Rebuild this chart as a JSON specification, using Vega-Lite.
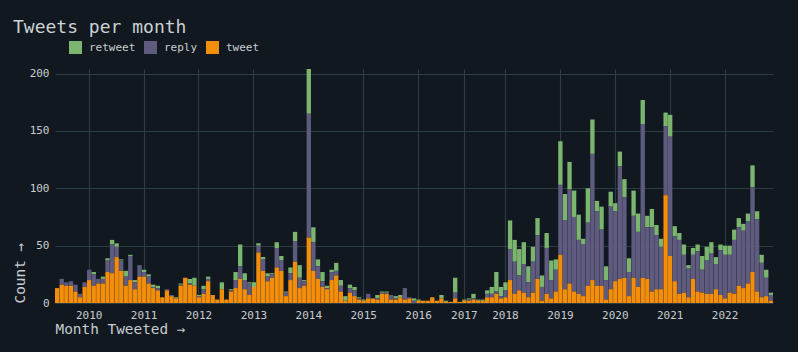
{
  "$schema": "https://vega.github.io/schema/vega-lite/v6.json",
  "width": 718,
  "height": 234,
  "autosize": {"type": "none"},
  "padding": {"left": 55, "top": 69, "right": 25, "bottom": 49},
  "background": "#11181f",
  "title": {"text": "Tweets per month", "anchor": "start", "frame": "group", "font": "DejaVu Sans Mono", "fontSize": 18, "fontWeight": "normal", "color": "#cdd1d4", "dx": -42, "offset": -10, "baseline": "alphabetic"},
  "data": {"values": [
    {"m":"2009-06","tweet":13,"reply":0,"retweet":0},
    {"m":"2009-07","tweet":16,"reply":5,"retweet":0},
    {"m":"2009-08","tweet":15,"reply":3,"retweet":0},
    {"m":"2009-09","tweet":15,"reply":4,"retweet":0},
    {"m":"2009-10","tweet":10,"reply":6,"retweet":0},
    {"m":"2009-11","tweet":5,"reply":3,"retweet":0},
    {"m":"2009-12","tweet":14,"reply":4,"retweet":0},
    {"m":"2010-01","tweet":20,"reply":9,"retweet":0},
    {"m":"2010-02","tweet":15,"reply":10,"retweet":2},
    {"m":"2010-03","tweet":17,"reply":4,"retweet":0},
    {"m":"2010-04","tweet":17,"reply":4,"retweet":2},
    {"m":"2010-05","tweet":27,"reply":10,"retweet":2},
    {"m":"2010-06","tweet":26,"reply":25,"retweet":4},
    {"m":"2010-07","tweet":40,"reply":9,"retweet":3},
    {"m":"2010-08","tweet":28,"reply":9,"retweet":1},
    {"m":"2010-09","tweet":15,"reply":8,"retweet":5},
    {"m":"2010-10","tweet":20,"reply":21,"retweet":1},
    {"m":"2010-11","tweet":12,"reply":6,"retweet":2},
    {"m":"2010-12","tweet":23,"reply":10,"retweet":0},
    {"m":"2011-01","tweet":23,"reply":4,"retweet":2},
    {"m":"2011-02","tweet":17,"reply":6,"retweet":2},
    {"m":"2011-03","tweet":13,"reply":1,"retweet":2},
    {"m":"2011-04","tweet":11,"reply":2,"retweet":2},
    {"m":"2011-05","tweet":5,"reply":0,"retweet":0},
    {"m":"2011-06","tweet":11,"reply":1,"retweet":0},
    {"m":"2011-07","tweet":6,"reply":1,"retweet":0},
    {"m":"2011-08","tweet":4,"reply":0,"retweet":1},
    {"m":"2011-09","tweet":15,"reply":1,"retweet":1},
    {"m":"2011-10","tweet":22,"reply":0,"retweet":0},
    {"m":"2011-11","tweet":16,"reply":1,"retweet":4},
    {"m":"2011-12","tweet":15,"reply":0,"retweet":7},
    {"m":"2012-01","tweet":5,"reply":1,"retweet":1},
    {"m":"2012-02","tweet":8,"reply":4,"retweet":3},
    {"m":"2012-03","tweet":19,"reply":2,"retweet":2},
    {"m":"2012-04","tweet":7,"reply":0,"retweet":0},
    {"m":"2012-05","tweet":3,"reply":0,"retweet":0},
    {"m":"2012-06","tweet":12,"reply":0,"retweet":6},
    {"m":"2012-07","tweet":3,"reply":0,"retweet":0},
    {"m":"2012-08","tweet":10,"reply":1,"retweet":1},
    {"m":"2012-09","tweet":13,"reply":7,"retweet":7},
    {"m":"2012-10","tweet":21,"reply":11,"retweet":19},
    {"m":"2012-11","tweet":12,"reply":8,"retweet":6},
    {"m":"2012-12","tweet":7,"reply":10,"retweet":1},
    {"m":"2013-01","tweet":14,"reply":0,"retweet":4},
    {"m":"2013-02","tweet":44,"reply":6,"retweet":2},
    {"m":"2013-03","tweet":28,"reply":10,"retweet":2},
    {"m":"2013-04","tweet":19,"reply":4,"retweet":3},
    {"m":"2013-05","tweet":22,"reply":3,"retweet":1},
    {"m":"2013-06","tweet":31,"reply":17,"retweet":5},
    {"m":"2013-07","tweet":28,"reply":9,"retweet":4},
    {"m":"2013-08","tweet":6,"reply":3,"retweet":1},
    {"m":"2013-09","tweet":20,"reply":6,"retweet":5},
    {"m":"2013-10","tweet":36,"reply":18,"retweet":8},
    {"m":"2013-11","tweet":13,"reply":9,"retweet":11},
    {"m":"2013-12","tweet":15,"reply":4,"retweet":1},
    {"m":"2014-01","tweet":57,"reply":108,"retweet":39},
    {"m":"2014-02","tweet":28,"reply":25,"retweet":13},
    {"m":"2014-03","tweet":21,"reply":11,"retweet":6},
    {"m":"2014-04","tweet":14,"reply":5,"retweet":8},
    {"m":"2014-05","tweet":12,"reply":1,"retweet":2},
    {"m":"2014-06","tweet":20,"reply":7,"retweet":2},
    {"m":"2014-07","tweet":24,"reply":4,"retweet":7},
    {"m":"2014-08","tweet":10,"reply":5,"retweet":5},
    {"m":"2014-09","tweet":2,"reply":0,"retweet":4},
    {"m":"2014-10","tweet":9,"reply":4,"retweet":3},
    {"m":"2014-11","tweet":6,"reply":5,"retweet":3},
    {"m":"2014-12","tweet":3,"reply":1,"retweet":1},
    {"m":"2015-01","tweet":2,"reply":0,"retweet":1},
    {"m":"2015-02","tweet":4,"reply":4,"retweet":0},
    {"m":"2015-03","tweet":4,"reply":0,"retweet":0},
    {"m":"2015-04","tweet":3,"reply":1,"retweet":3},
    {"m":"2015-05","tweet":8,"reply":1,"retweet":1},
    {"m":"2015-06","tweet":8,"reply":1,"retweet":1},
    {"m":"2015-07","tweet":3,"reply":4,"retweet":0},
    {"m":"2015-08","tweet":3,"reply":1,"retweet":2},
    {"m":"2015-09","tweet":5,"reply":0,"retweet":2},
    {"m":"2015-10","tweet":3,"reply":10,"retweet":0},
    {"m":"2015-11","tweet":4,"reply":1,"retweet":0},
    {"m":"2015-12","tweet":0,"reply":2,"retweet":2},
    {"m":"2016-01","tweet":2,"reply":0,"retweet":1},
    {"m":"2016-02","tweet":2,"reply":0,"retweet":0},
    {"m":"2016-03","tweet":2,"reply":0,"retweet":0},
    {"m":"2016-04","tweet":5,"reply":0,"retweet":0},
    {"m":"2016-05","tweet":2,"reply":0,"retweet":0},
    {"m":"2016-06","tweet":4,"reply":0,"retweet":3},
    {"m":"2016-08","tweet":1,"reply":0,"retweet":1},
    {"m":"2016-09","tweet":1,"reply":0,"retweet":0},
    {"m":"2016-10","tweet":4,"reply":5,"retweet":13},
    {"m":"2016-12","tweet":1,"reply":0,"retweet":0},
    {"m":"2017-01","tweet":2,"reply":0,"retweet":1},
    {"m":"2017-02","tweet":2,"reply":1,"retweet":1},
    {"m":"2017-04","tweet":3,"reply":1,"retweet":4},
    {"m":"2017-06","tweet":2,"reply":0,"retweet":1},
    {"m":"2017-07","tweet":2,"reply":0,"retweet":1},
    {"m":"2017-09","tweet":5,"reply":3,"retweet":3},
    {"m":"2017-10","tweet":5,"reply":3,"retweet":6},
    {"m":"2017-11","tweet":8,"reply":2,"retweet":17},
    {"m":"2017-12","tweet":4,"reply":2,"retweet":8},
    {"m":"2018-01","tweet":5,"reply":6,"retweet":7},
    {"m":"2018-02","tweet":20,"reply":27,"retweet":25},
    {"m":"2018-03","tweet":8,"reply":28,"retweet":19},
    {"m":"2018-04","tweet":11,"reply":13,"retweet":23},
    {"m":"2018-05","tweet":9,"reply":25,"retweet":19},
    {"m":"2018-06","tweet":5,"reply":13,"retweet":14},
    {"m":"2018-07","tweet":9,"reply":27,"retweet":13},
    {"m":"2018-08","tweet":21,"reply":38,"retweet":15},
    {"m":"2018-09","tweet":2,"reply":12,"retweet":10},
    {"m":"2018-10","tweet":8,"reply":40,"retweet":13},
    {"m":"2018-11","tweet":4,"reply":16,"retweet":17},
    {"m":"2018-12","tweet":10,"reply":19,"retweet":9},
    {"m":"2019-01","tweet":42,"reply":61,"retweet":38},
    {"m":"2019-02","tweet":12,"reply":60,"retweet":23},
    {"m":"2019-03","tweet":17,"reply":82,"retweet":24},
    {"m":"2019-04","tweet":10,"reply":65,"retweet":23},
    {"m":"2019-05","tweet":8,"reply":47,"retweet":22},
    {"m":"2019-06","tweet":6,"reply":45,"retweet":5},
    {"m":"2019-07","tweet":15,"reply":55,"retweet":30},
    {"m":"2019-08","tweet":20,"reply":110,"retweet":30},
    {"m":"2019-09","tweet":15,"reply":65,"retweet":9},
    {"m":"2019-10","tweet":15,"reply":49,"retweet":20},
    {"m":"2019-11","tweet":3,"reply":17,"retweet":12},
    {"m":"2019-12","tweet":12,"reply":72,"retweet":13},
    {"m":"2020-01","tweet":19,"reply":61,"retweet":7},
    {"m":"2020-02","tweet":21,"reply":98,"retweet":13},
    {"m":"2020-03","tweet":22,"reply":70,"retweet":16},
    {"m":"2020-04","tweet":6,"reply":21,"retweet":12},
    {"m":"2020-05","tweet":22,"reply":54,"retweet":22},
    {"m":"2020-06","tweet":14,"reply":48,"retweet":16},
    {"m":"2020-07","tweet":22,"reply":134,"retweet":21},
    {"m":"2020-08","tweet":21,"reply":45,"retweet":10},
    {"m":"2020-09","tweet":10,"reply":56,"retweet":16},
    {"m":"2020-10","tweet":12,"reply":47,"retweet":9},
    {"m":"2020-11","tweet":12,"reply":37,"retweet":7},
    {"m":"2020-12","tweet":94,"reply":60,"retweet":12},
    {"m":"2021-01","tweet":41,"reply":104,"retweet":19},
    {"m":"2021-02","tweet":19,"reply":39,"retweet":9},
    {"m":"2021-03","tweet":8,"reply":47,"retweet":6},
    {"m":"2021-04","tweet":9,"reply":33,"retweet":9},
    {"m":"2021-05","tweet":5,"reply":25,"retweet":3},
    {"m":"2021-06","tweet":21,"reply":21,"retweet":6},
    {"m":"2021-07","tweet":10,"reply":35,"retweet":6},
    {"m":"2021-08","tweet":9,"reply":20,"retweet":12},
    {"m":"2021-09","tweet":8,"reply":29,"retweet":12},
    {"m":"2021-10","tweet":8,"reply":35,"retweet":10},
    {"m":"2021-11","tweet":12,"reply":22,"retweet":6},
    {"m":"2021-12","tweet":7,"reply":39,"retweet":5},
    {"m":"2022-01","tweet":4,"reply":38,"retweet":8},
    {"m":"2022-02","tweet":9,"reply":33,"retweet":8},
    {"m":"2022-03","tweet":8,"reply":47,"retweet":9},
    {"m":"2022-04","tweet":15,"reply":51,"retweet":8},
    {"m":"2022-05","tweet":13,"reply":50,"retweet":6},
    {"m":"2022-06","tweet":17,"reply":54,"retweet":7},
    {"m":"2022-07","tweet":27,"reply":74,"retweet":19},
    {"m":"2022-08","tweet":10,"reply":63,"retweet":7},
    {"m":"2022-09","tweet":5,"reply":30,"retweet":7},
    {"m":"2022-10","tweet":6,"reply":16,"retweet":7},
    {"m":"2022-11","tweet":2,"reply":5,"retweet":2}
  ]},
  "transform": [
    {"fold": ["retweet", "reply", "tweet"], "as": ["type", "count"]},
    {"calculate": "indexof(['tweet','reply','retweet'], datum.type)", "as": "o"}
  ],
  "mark": {"type": "bar"},
  "encoding": {
    "x": {
      "field": "m", "type": "ordinal",
      "scale": {"paddingInner": 0.05, "paddingOuter": 0},
      "axis": {
        "values": ["2010-01","2011-01","2012-01","2013-01","2014-01","2015-01","2016-01","2017-01","2018-01","2019-01","2020-01","2021-01","2022-01"],
        "labelExpr": "slice(datum.value, 0, 4)",
        "labelAngle": 0,
        "labelPadding": 6,
        "grid": true,
        "title": "Month Tweeted →",
        "titleX": 0, "titleY": 30, "titleAlign": "left", "titleBaseline": "alphabetic", "titleAnchor": "start"
      }
    },
    "y": {
      "field": "count", "type": "quantitative", "stack": "zero",
      "scale": {"domain": [0, 204], "nice": false},
      "axis": {
        "values": [0, 50, 100, 150, 200],
        "labelPadding": 6,
        "grid": true,
        "title": "Count →",
        "titleX": -31, "titleY": 234, "titleAngle": -90, "titleAlign": "left", "titleBaseline": "alphabetic", "titleAnchor": "start"
      }
    },
    "color": {
      "field": "type", "type": "nominal",
      "scale": {"domain": ["retweet", "reply", "tweet"], "range": ["#7bb56f", "#5e5b7f", "#f28e0c"]},
      "legend": {
        "orient": "none", "legendX": 14, "legendY": -28, "direction": "horizontal", "title": null,
        "symbolType": "square", "symbolSize": 169, "symbolStrokeWidth": 0, "symbolOpacity": 1,
        "labelFont": "DejaVu Sans Mono", "labelFontSize": 11, "labelColor": "#c8ccd0",
        "columnPadding": 8, "labelOffset": 7, "padding": 0
      }
    },
    "order": {"field": "o", "type": "quantitative"}
  },
  "config": {
    "view": {"stroke": null},
    "font": "DejaVu Sans Mono",
    "axis": {
      "domain": false, "ticks": false, "tickSize": 0,
      "gridColor": "#2b3c44", "gridWidth": 1.2, "gridOpacity": 1,
      "labelFont": "DejaVu Sans Mono", "labelFontSize": 11, "labelColor": "#c8ccd0",
      "titleFont": "DejaVu Sans Mono", "titleFontSize": 14.4, "titleFontWeight": "normal", "titleColor": "#c8ccd0"
    }
  }
}
